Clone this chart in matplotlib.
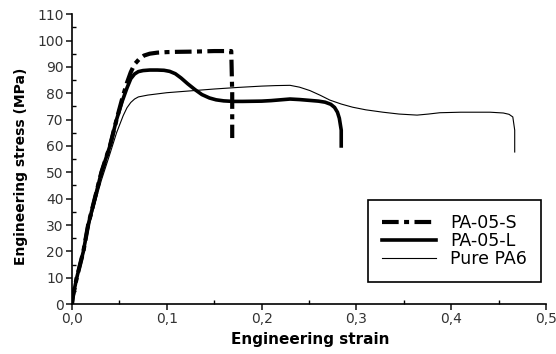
import numpy as np
import matplotlib.pyplot as plt
from matplotlib.ticker import MultipleLocator, FuncFormatter

plt.rcParams['font.family'] = ['DejaVu Sans']

# PA-05-S (dash-dot)
s_strain = [0.0, 0.001, 0.005, 0.012, 0.017, 0.024, 0.031, 0.040, 0.047, 0.053, 0.058, 0.062, 0.066, 0.071, 0.076, 0.082,
            0.09, 0.10, 0.11, 0.13, 0.15, 0.168, 0.169, 0.169]
s_stress = [0, 3, 10, 20, 30, 40, 50, 60, 70, 78, 84, 88, 91, 93, 94.3, 95.0,
            95.4, 95.6, 95.7, 95.8, 96.0, 96.0, 80, 63]

# PA-05-L (thick solid)
l_strain = [0.0, 0.001, 0.005, 0.012, 0.017, 0.024, 0.031, 0.040, 0.047, 0.053, 0.058, 0.062, 0.066, 0.070, 0.075,
            0.082, 0.09, 0.097, 0.103, 0.109, 0.115, 0.122, 0.13, 0.137, 0.145, 0.152, 0.16, 0.17, 0.18, 0.20,
            0.21, 0.22, 0.23, 0.24, 0.25, 0.26, 0.267, 0.273, 0.277, 0.28, 0.282, 0.284, 0.284]
l_stress = [0, 3, 10, 20, 30, 40, 50, 60, 70, 77, 82, 85.5, 87.3, 88.2, 88.6,
            88.8, 88.8, 88.7, 88.3, 87.4, 85.8, 83.6, 81.3, 79.5, 78.2, 77.5, 77.1, 76.9, 76.9, 77.0,
            77.2, 77.5, 77.8, 77.6, 77.3, 77.0, 76.6, 75.8, 74.6, 72.8, 70.5, 66, 60]

# Pure PA6 (thin solid)
p_strain = [0.0, 0.001, 0.005, 0.012, 0.017, 0.024, 0.031, 0.040, 0.047, 0.054, 0.058, 0.062, 0.066, 0.070, 0.08,
            0.10, 0.125, 0.15, 0.175, 0.20, 0.215, 0.23, 0.24, 0.251, 0.262, 0.272, 0.284, 0.296, 0.31, 0.328,
            0.345, 0.364, 0.376, 0.388, 0.41, 0.441, 0.455, 0.461, 0.465, 0.467, 0.467]
p_stress = [0, 3, 9, 19, 28, 38, 47, 57, 65, 71.5, 74.5, 76.5, 77.8, 78.6, 79.3,
            80.2, 80.9, 81.6, 82.2, 82.7, 82.9, 83.0, 82.3, 81.0, 79.2, 77.4, 75.9, 74.7, 73.7, 72.8,
            72.1, 71.7, 72.1, 72.6, 72.8, 72.8, 72.5, 72.0, 71.0, 66, 57.7]

fig = plt.figure(figsize=(5.56, 3.54), dpi=100)
ax = fig.add_axes([0.1295, 0.141, 0.8525, 0.819])

ax.plot(s_strain, s_stress, color='black', lw=3, linestyle=(0, (4, 1.3, 1.2, 1.3)), label='PA-05-S')
ax.plot(l_strain, l_stress, color='black', lw=2.6, label='PA-05-L')
ax.plot(p_strain, p_stress, color='black', lw=0.8, label='Pure PA6')

ax.set_xlim(0, 0.5)
ax.set_ylim(0, 110)
ax.xaxis.set_major_locator(MultipleLocator(0.1))
ax.xaxis.set_minor_locator(MultipleLocator(0.05))
ax.yaxis.set_major_locator(MultipleLocator(10))
ax.yaxis.set_minor_locator(MultipleLocator(5))
ax.xaxis.set_major_formatter(FuncFormatter(lambda v, p: f'{v:.1f}'.replace('.', ',')))

for side in ['top', 'right']:
    ax.spines[side].set_visible(False)
ax.spines['left'].set_linewidth(1.2)
ax.spines['bottom'].set_linewidth(1.2)
ax.tick_params(axis='both', which='major', direction='out', length=4, width=1.2, labelsize=10,
               colors='#222222', labelcolor='#333333', pad=2)
ax.tick_params(axis='both', which='minor', direction='in', length=3, width=1)

ax.set_xlabel('Engineering strain', fontsize=11, fontweight='bold')
ax.set_ylabel('Engineering stress (MPa)', fontsize=10, fontweight='bold')
ax.xaxis.set_label_coords(0.503, -0.098)
ax.yaxis.set_label_coords(-0.093, 0.476)

leg = ax.legend(loc='lower right', bbox_to_anchor=(0.989, 0.076), fontsize=12.5, fancybox=False,
                edgecolor='black', framealpha=1, handlelength=3.1, handletextpad=0.8,
                borderpad=0.8, borderaxespad=0, labelspacing=0.0)
leg.get_frame().set_linewidth(1.2)

fig.savefig('out.png', dpi=100)
